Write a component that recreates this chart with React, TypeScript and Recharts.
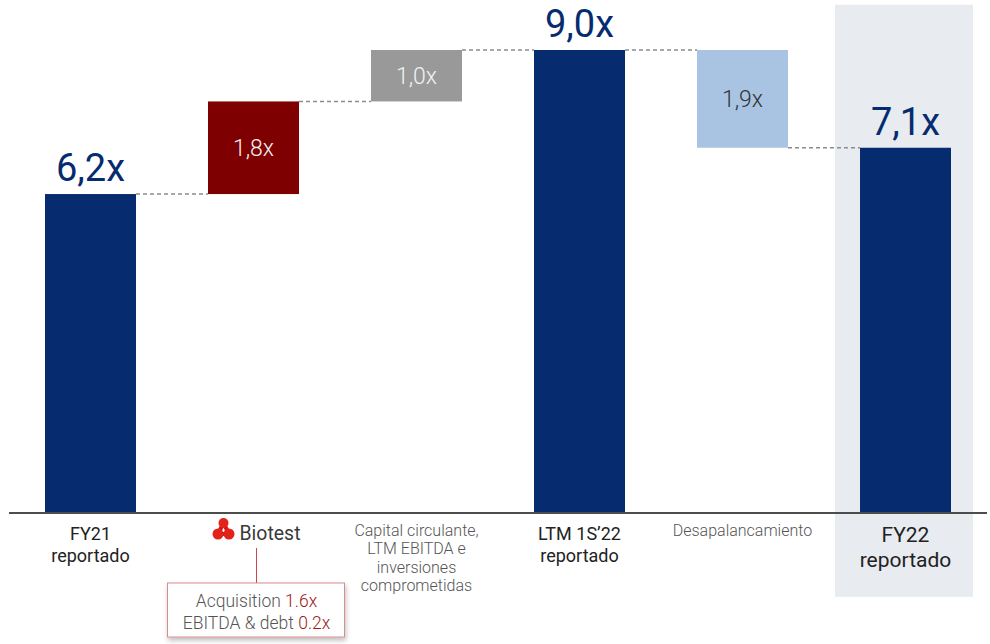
import React from "react";
import { BarChart, Bar, XAxis, YAxis, ReferenceArea } from "recharts";

const categories = [
  "FY21 reportado",
  "Biotest",
  "Capital circulante, LTM EBITDA e inversiones comprometidas",
  "LTM 1S’22 reportado",
  "Desapalancamiento",
  "FY22 reportado",
];
const tickLines = [
  ["FY21", "reportado"],
  ["Biotest"],
  ["Capital circulante,", "LTM EBITDA e", "inversiones", "comprometidas"],
  ["LTM 1S’22", "reportado"],
  ["Desapalancamiento"],
  ["FY22", "reportado"],
];
const changes = [6.2, 1.8, 1.0, 9.0, -1.9, 7.1];
const isTotal = [true, false, false, true, false, true];
const valueLabels = ["6,2x", "1,8x", "1,0x", "9,0x", "1,9x", "7,1x"];
const barColors = ["#062B6F", "#7F0000", "#999999", "#062B6F", "#A9C4E2", "#062B6F"];
const labelColors = ["#062B6F", "#F2F2F2", "#F2F2F2", "#062B6F", "#333333", "#062B6F"];
const biotestNotes = [
  ["Acquisition", "1.6x"],
  ["EBITDA & debt", "0.2x"],
];

const FONT = "Roboto, 'Open Sans', sans-serif";
const WIDTH = 990;
const HEIGHT = 644;
const MARGIN = { top: 50, right: 3, bottom: 31, left: 9 };
const BAR_SIZE = 91;
const BAND = (WIDTH - MARGIN.left - MARGIN.right) / categories.length;

let running = 0;
const data = categories.map((name, i) => {
  const d = changes[i];
  let low: number;
  let high: number;
  if (isTotal[i]) {
    low = 0;
    high = d;
    running = d;
  } else if (d >= 0) {
    low = running;
    high = running + d;
    running = high;
  } else {
    high = running;
    low = running + d;
    running = low;
  }
  return { name, range: [low, high], endsAtTop: isTotal[i] || d >= 0, idx: i };
});

function WaterfallBar(props: any) {
  const { x, y, width, height, payload } = props;
  const i = payload.idx;
  const top = height >= 0 ? y : y + height;
  const h = Math.abs(height);
  const lineY = payload.endsAtTop ? top : top + h;
  const gap = BAND - width;
  return (
    <g>
      <rect x={x} y={top} width={width} height={h} fill={barColors[i]} />
      {i < categories.length - 1 && (
        <line
          x1={x + width}
          x2={x + width + gap}
          y1={lineY}
          y2={lineY}
          stroke="#8C8C8C"
          strokeWidth={1.5}
          strokeDasharray="4 3"
        />
      )}
      {isTotal[i] ? (
        <text
          x={x + width / 2}
          y={top - 13}
          textAnchor="middle"
          fontFamily={FONT}
          fontSize={38}
          fill={labelColors[i]}
        >
          {valueLabels[i]}
        </text>
      ) : (
        <text
          x={x + width / 2}
          y={top + h / 2 + 8}
          textAnchor="middle"
          fontFamily={FONT}
          fontSize={23}
          fontWeight={300}
          fill={labelColors[i]}
        >
          {valueLabels[i]}
        </text>
      )}
    </g>
  );
}

function BiotestLogo({ x, y }: { x: number; y: number }) {
  // small red molecule mark + wordmark
  const lx = x - 33;
  return (
    <g>
      <line x1={lx} y1={y + 5} x2={lx - 5.5} y2={y + 16} stroke="#D7141A" strokeWidth={4} />
      <line x1={lx} y1={y + 5} x2={lx + 5.5} y2={y + 16} stroke="#D7141A" strokeWidth={4} />
      <line x1={lx - 5.5} y1={y + 16} x2={lx + 5.5} y2={y + 16} stroke="#D7141A" strokeWidth={4} />
      <circle cx={lx} cy={y + 5} r={5} fill="#E2231A" />
      <circle cx={lx - 5.5} cy={y + 16} r={5.5} fill="#E2231A" />
      <circle cx={lx + 5.5} cy={y + 16} r={5.5} fill="#E2231A" />
      <text
        x={x - 17}
        y={y + 22}
        fontFamily={FONT}
        fontSize={21}
        fill="#3A3A3A"
        textLength={61}
        lengthAdjust="spacingAndGlyphs"
      >
        Biotest
      </text>
    </g>
  );
}

function CategoryTick(props: any) {
  const { x, y, payload } = props;
  const i = payload?.index ?? props.index;
  const lines = tickLines[i];
  if (i === 1) {
    const cx = x + 3;
    return (
      <g>
        <BiotestLogo x={cx} y={y + 5} />
        <line x1={cx} x2={cx} y1={y + 35} y2={y + 70} stroke="#C9484B" strokeWidth={1} />
        <defs>
          <filter id="boxShadow" x="-10%" y="-20%" width="120%" height="150%">
            <feDropShadow dx="1" dy="3" stdDeviation="2.5" floodColor="#000" floodOpacity="0.25" />
          </filter>
        </defs>
        <rect
          x={cx - 89}
          y={y + 70}
          width={177}
          height={54}
          fill="#FFFFFF"
          stroke="#D98C8E"
          strokeWidth={1}
          filter="url(#boxShadow)"
        />
        {biotestNotes.map((n, k) => (
          <text
            key={k}
            x={cx}
            y={y + 94 + k * 22}
            textAnchor="middle"
            fontFamily={FONT}
            fontSize={17.5}
            fontWeight={300}
            fill="#555555"
          >
            {n[0] + " "}
            <tspan fill="#9B1B1B">{n[1]}</tspan>
          </text>
        ))}
      </g>
    );
  }
  const strong = isTotal[i];
  const big = i === categories.length - 1;
  const fontSize = big ? 21 : strong ? 18 : 16;
  const lineH = big ? 25.5 : strong ? 21.5 : 18.3;
  const first = big ? 28.5 : strong ? 27 : 23;
  return (
    <g>
      {lines.map((t: string, k: number) => (
        <text
          key={k}
          x={x}
          y={y + first + k * lineH}
          textAnchor="middle"
          fontFamily={FONT}
          fontSize={fontSize}
          fontWeight={strong ? 400 : 300}
          fill={strong ? "#222222" : "#555555"}
        >
          {t}
        </text>
      ))}
    </g>
  );
}

function HighlightRect(props: any) {
  const { x, y, width, height } = props;
  return <rect x={x + 11} y={y} width={width - 25} height={height} fill="#E8EBF0" />;
}

export default function App() {
  return (
    <div style={{ position: "absolute", left: 0, top: 0, width: WIDTH, height: HEIGHT, background: "#fff" }}>
      <BarChart width={WIDTH} height={HEIGHT} data={data} margin={MARGIN} barSize={BAR_SIZE}>
        <ReferenceArea
          x1={categories[5]}
          x2={categories[5]}
          y1={-1.63}
          y2={9.88}
          ifOverflow="visible"
          shape={<HighlightRect />}
        />
        <XAxis
          dataKey="name"
          height={100}
          interval={0}
          tickLine={false}
          tickSize={0}
          tickMargin={0}
          axisLine={{ stroke: "#4D4D4D", strokeWidth: 2 }}
          tick={<CategoryTick />}
        />
        <YAxis hide domain={[0, 9]} />
        <Bar dataKey="range" isAnimationActive={false} shape={<WaterfallBar />} />
      </BarChart>
    </div>
  );
}
